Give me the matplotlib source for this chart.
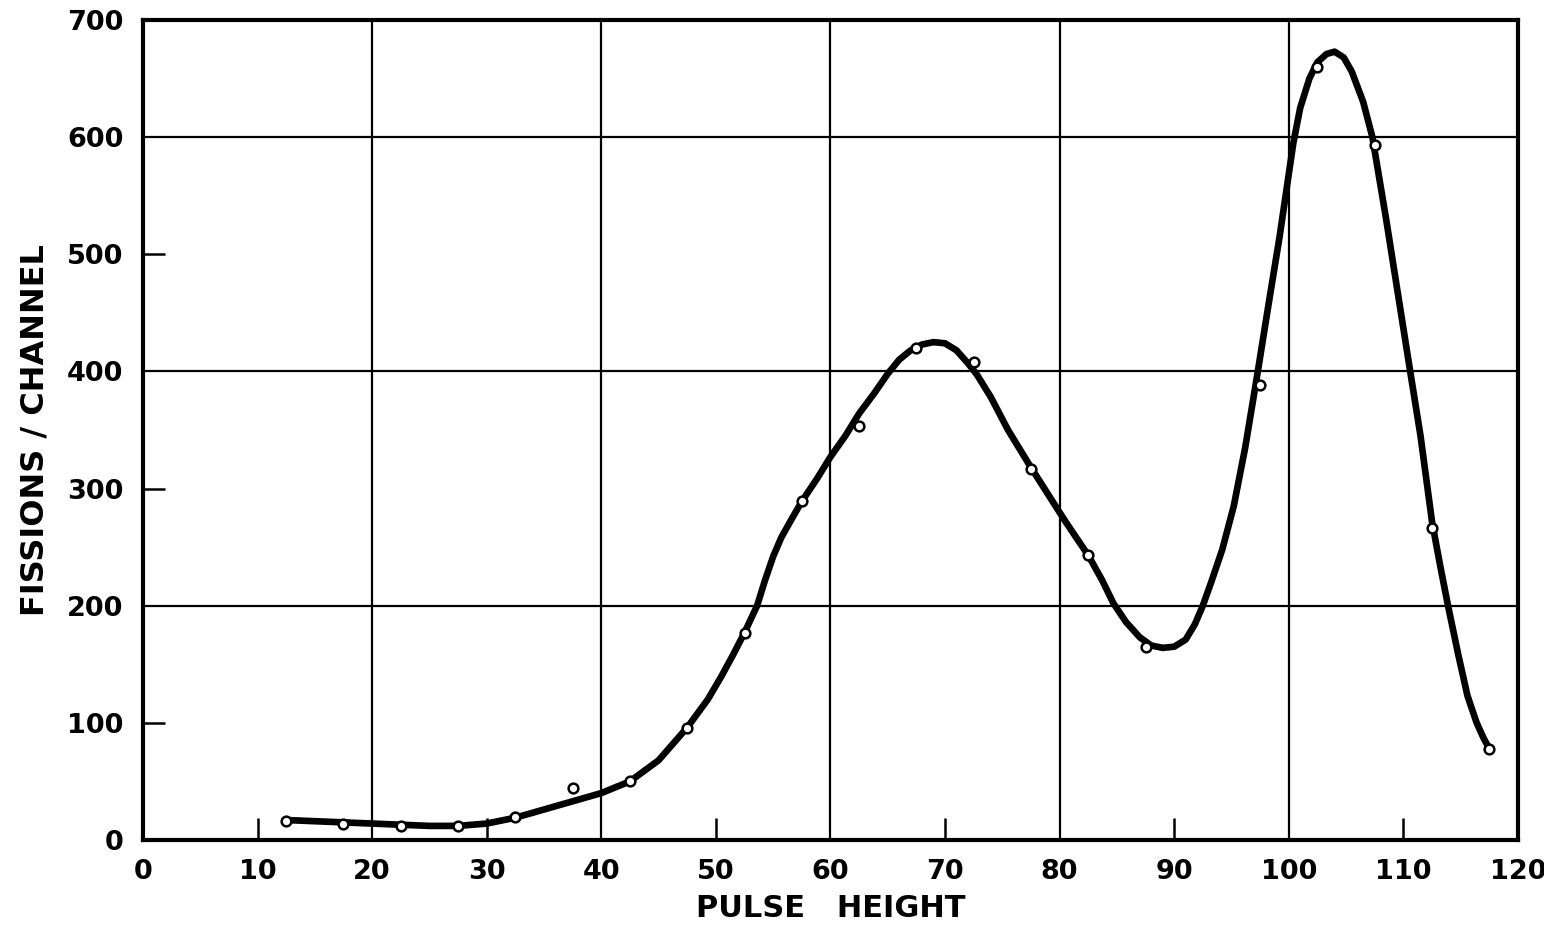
import matplotlib
matplotlib.use('agg')
from matplotlib import pyplot
import numpy as np

# measured points (open circles)
pulse_height = [12.5, 17.5, 22.5, 27.5, 32.5, 37.5, 42.5, 47.5, 52.5, 57.5, 62.5,
                67.5, 72.5, 77.5, 82.5, 87.5, 97.5, 102.5, 107.5, 112.5, 117.5]
fissions = [16, 14, 12, 12, 20, 44, 50, 96, 177, 289, 353,
            420, 408, 317, 243, 165, 388, 660, 593, 266, 78]

# hand drawn smooth curve
curve_x = [12.5, 17.5, 22.5, 25, 27.5, 30, 32.5, 35, 37.5, 40, 42.5, 45, 47.5,
           49.3, 50.5, 51.5, 52.5, 53.6, 54.3, 55, 55.7, 56.5, 57.5, 58.8, 60, 61.3,
           62.5, 63.8, 65, 66, 67, 68, 69, 70, 71, 72, 72.8, 74, 75.5, 77.5,
           79, 80.5, 82.5, 83.7, 84.7, 85.8, 87, 88, 89, 90, 91, 91.8, 92.5,
           93.3, 94.2, 95.2, 96.2, 97.3, 98.2, 99.2, 99.8, 100.4, 101, 101.8, 102.5,
           103.3, 104, 104.8, 105.5, 106.5, 107.3, 108.5, 109.5, 110.6, 111.5,
           112.5, 113.2, 113.9, 114.8, 115.6, 116.4, 117, 117.5]
curve_y = [17, 15, 13, 12, 12, 14, 19, 26, 33, 40, 50, 68, 96,
           120, 140, 158, 177, 200, 222, 242, 258, 272, 289, 308, 327, 345,
           364, 381, 398, 410, 418, 423, 425, 424, 418, 407, 397, 378, 350, 318,
           295, 272, 243, 222, 202, 186, 173, 166, 164, 165, 171, 184, 200,
           222, 248, 285, 335, 400, 455, 515, 555, 595, 625, 650, 664,
           671, 673, 668, 656, 630, 600, 530, 468, 400, 345,
           272, 235, 200, 158, 123, 100, 87, 78]

fig = pyplot.figure(figsize=(15.44, 9.27), dpi=100)
ax = fig.add_axes([0.0926, 0.0939, 0.8905, 0.8845])

ax.plot(curve_x, curve_y, color='black', lw=4.8, solid_capstyle='round',
        solid_joinstyle='round', zorder=3)
ax.plot(pulse_height, fissions, 'o', ms=7, mfc='white', mec='black', mew=1.8, zorder=4)

ax.set_xlim(0, 120)
ax.set_ylim(0, 700)

ax.xaxis.remove_overlapping_locs = False
ax.yaxis.remove_overlapping_locs = False
ax.set_xticks(np.arange(0, 121, 10))
ax.set_xticks([10, 30, 50, 70, 90, 110], minor=True)
ax.set_yticks(np.arange(0, 701, 100))
ax.set_yticks([100, 300, 500], minor=True)
ax.tick_params(which='major', length=0, pad=14, labelsize=19.5)
ax.tick_params(which='minor', direction='in', length=16, width=1.8)
for lab in ax.get_xticklabels() + ax.get_yticklabels():
  lab.set_fontweight('bold')

for v in [20, 40, 60, 80, 100]:
  ax.axvline(v, color='black', lw=1.6, zorder=1)
for v in [200, 400, 600]:
  ax.axhline(v, color='black', lw=1.6, zorder=1)

for s in ax.spines.values():
  s.set_linewidth(3)

ax.set_xlabel('PULSE   HEIGHT', fontsize=22, fontweight='bold', labelpad=6)
ax.set_ylabel('FISSIONS / CHANNEL', fontsize=23, fontweight='bold', labelpad=12)

fig.savefig('out.png', dpi=100)
